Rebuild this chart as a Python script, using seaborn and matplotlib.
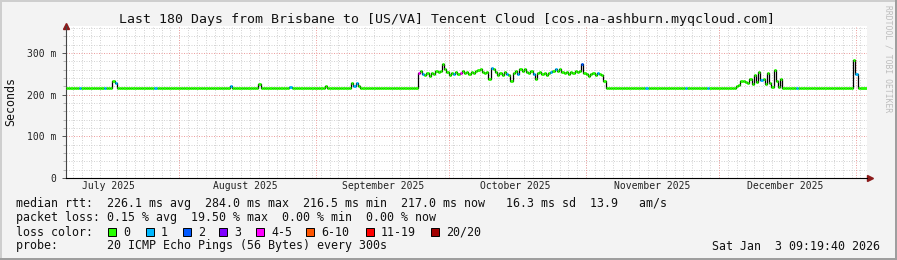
import numpy as np
import pandas as pd
import matplotlib
matplotlib.use("Agg")
import matplotlib.pyplot as plt
import matplotlib.dates as mdates
from matplotlib.ticker import MultipleLocator, FuncFormatter
from matplotlib.patches import Rectangle
from matplotlib.lines import Line2D
import seaborn as sns

# ---------------- data ----------------
title = "Last 180 Days from Brisbane to [US/VA] Tencent Cloud [cos.na-ashburn.myqcloud.com]"
start_time = "2025-07-06 09:19:40"
end_time = "2026-01-03 09:19:40"
sample_hours = 12

early_rtt = ([217.0] * 21 + [233.0, 228.0] + [217.0] * 51 + [222.0] + [217.0] * 12 +
             [226.0] + [217.0] * 13 + [219.0] + [217.0] * 15 + [221.0] + [217.0] * 11 +
             [229.0, 222.0, 228.0, 222.0] + [217.0] * 26)
sep_oct_rtt = [253, 256, 250, 248, 251, 246, 253, 249, 257, 254,
               258, 273, 262, 255, 248, 253, 250, 255, 249, 253,
               256, 251, 254, 249, 255, 251, 256, 259, 262, 255,
               251, 254, 237, 265, 261, 255, 248, 252, 247, 254,
               250, 248, 234, 252, 256, 250, 261, 258, 262, 255,
               252, 256, 250, 237, 252, 255, 249, 252, 248, 253,
               255, 258, 261, 257, 262, 255, 252, 254, 250, 255,
               251, 258, 254, 256, 273, 253, 250, 246, 249, 252,
               248, 251, 249, 247, 232]
nov_rtt = [217.0] * 59
dec_rtt = [220, 224, 232, 233, 230, 228, 238, 225, 248, 230, 255,
           236, 238, 226, 253, 228, 218, 260, 232, 218, 238, 217]
late_rtt = [217.0] * 31 + [284.0, 250.0, 217.0, 217.0]

loss_idx = [6, 17, 22, 40, 74, 101, 130, 131, 159, 161, 175, 178, 192, 199, 204,
            211, 219, 221, 233, 240, 262, 280, 290, 314, 330, 357]
loss_pings = [1, 1, 1, 1, 1, 1, 1, 1, 4, 1, 1, 4, 1, 1, 1,
              1, 1, 1, 2, 1, 1, 1, 1, 1, 1, 1]

loss_labels = ["0", "1", "2", "3", "4-5", "6-10", "11-19", "20/20"]
loss_colors = ["#26ff00", "#00b8ff", "#0059ff", "#7e00ff", "#ff00ff", "#ff5500", "#ff0000", "#a10000"]

median_line = "median rtt:  226.1 ms avg  284.0 ms max  216.5 ms min  217.0 ms now   16.3 ms sd  13.9   am/s"
loss_line = "packet loss: 0.15 % avg  19.50 % max  0.00 % min  0.00 % now"
probe_line = "probe:       20 ICMP Echo Pings (56 Bytes) every 300s"
stamp = "Sat Jan  3 09:19:40 2026"
ylabel = "Seconds"
watermark = "RRDTOOL / TOBI OETIKER"

# ---------------- build frames ----------------
rtt = np.array(early_rtt + sep_oct_rtt + nov_rtt + dec_rtt + late_rtt, dtype=float)
n = len(rtt)
loss = np.zeros(n, dtype=int)
loss[loss_idx] = loss_pings


def loss_class(p):
    if p == 0:
        return "0"
    if p <= 3:
        return str(p)
    if p <= 5:
        return "4-5"
    if p <= 10:
        return "6-10"
    if p <= 19:
        return "11-19"
    return "20/20"


t0 = pd.Timestamp(start_time)
t_end = pd.Timestamp(end_time)
times = t0 + pd.to_timedelta(np.arange(n) * sample_hours, unit="h")
t_next = list(times[1:]) + [t_end]

line_df = pd.DataFrame({"time": list(times) + [t_end],
                        "rtt": list(rtt) + [rtt[-1]]})
rows = []
for i in range(n):
    c = loss_class(loss[i])
    rows.append((times[i], rtt[i], i, c))
    rows.append((t_next[i], rtt[i], i, c))
seg_df = pd.DataFrame(rows, columns=["time", "rtt", "seg", "cls"])
palette = dict(zip(loss_labels, loss_colors))

# ---------------- figure ----------------
sns.set_style("white")
plt.rcParams["font.family"] = ["DejaVu Sans Mono", "DejaVu Sans"]

W, H = 897, 260
fig = plt.figure(figsize=(W / 100, H / 100), dpi=100, facecolor="#f3f3f3")


def fx(x):
    return x / W


def fy(y):
    return 1 - y / H


ax_l, ax_r, ax_t, ax_b = 66, 866.5, 26, 178
ax = fig.add_axes([fx(ax_l), fy(ax_b), (ax_r - ax_l) / W, (ax_b - ax_t) / H])
ax.set_facecolor("white")

sns.lineplot(data=line_df, x="time", y="rtt", estimator=None, color="black",
             linewidth=0.9, drawstyle="steps-post", ax=ax, zorder=3)
sns.lineplot(data=seg_df, x="time", y="rtt", units="seg", hue="cls", palette=palette,
             estimator=None, linewidth=2.0, legend=False, ax=ax, zorder=4,
             solid_capstyle="butt")

ax.set_xlim(t0, t_end)
ax.set_ylim(0, 365)
ax.set_xlabel("")
ax.set_ylabel("")

# y axis
ax.yaxis.set_major_locator(MultipleLocator(100))
ax.yaxis.set_minor_locator(MultipleLocator(20))
ax.yaxis.set_major_formatter(FuncFormatter(lambda v, p: "0" if v == 0 else f"{int(v)} m"))
ax.tick_params(axis="y", which="major", length=3, width=0.7, color="#555555",
               labelsize=7, pad=4, labelcolor="#222222", left=True)
ax.tick_params(axis="y", which="minor", length=2, width=0.6, color="#aaaaaa", left=True)

# x axis
ax.xaxis.set_major_locator(mdates.MonthLocator(bymonthday=16))
ax.xaxis.set_major_formatter(mdates.DateFormatter("%B %Y"))
ax.xaxis.set_minor_locator(mdates.DayLocator(interval=2))
ax.tick_params(axis="x", which="major", length=0, labelsize=7, pad=2.5, labelcolor="#222222")
ax.tick_params(axis="x", which="minor", length=0)

ax.set_axisbelow(True)
dots = (0, (1, 1.5))
ax.grid(which="minor", axis="both", color="#d4d4d4", linestyle=dots, linewidth=0.72)
ax.grid(which="major", axis="y", color="#eda0a0", linestyle=dots, linewidth=0.72)
ax.grid(which="major", axis="x", visible=False)
for m in pd.date_range("2025-08-01", "2026-01-01", freq="MS"):
    ax.axvline(m, color="#eda0a0", linestyle=dots, linewidth=0.72, zorder=0.8)

for s in ["top", "right"]:
    ax.spines[s].set_visible(False)
ax.spines["left"].set_color("#444444")
ax.spines["left"].set_linewidth(0.8)
ax.spines["bottom"].set_color("black")
ax.spines["bottom"].set_linewidth(0.8)

# axis arrows
ax.add_line(Line2D([1.0, 1.004], [0, 0], transform=ax.transAxes, color="black",
                   lw=0.8, clip_on=False))
ax.plot([0], [1.0], marker="^", ms=5, color="#8b1a1a", transform=ax.transAxes, clip_on=False)
ax.plot([1.004], [0], marker=">", ms=5, color="#8b1a1a", transform=ax.transAxes, clip_on=False)

# ---------------- texts ----------------
fig.text(fx(446.5), fy(20), title, ha="center", va="center", fontsize=9.5, color="#111111")
fig.text(fx(11), fy(102), ylabel, rotation=90, ha="center", va="center", fontsize=8.4,
         color="#111111")
fig.text(fx(888), fy(5), watermark, rotation=270, ha="center", va="top", fontsize=5.8,
         color="#bdbdbd")

leg_fs = 8.4
fig.text(fx(16), fy(204), median_line, ha="left", va="center", fontsize=leg_fs, color="#111111")
fig.text(fx(16), fy(218), loss_line, ha="left", va="center", fontsize=leg_fs, color="#111111")
fig.text(fx(16), fy(232), "loss color:", ha="left", va="center", fontsize=leg_fs, color="#111111")
fig.text(fx(16), fy(246), probe_line, ha="left", va="center", fontsize=leg_fs, color="#111111")
fig.text(fx(880), fy(246), stamp, ha="right", va="center", fontsize=leg_fs, color="#111111")

sw_x = [108, 146, 183, 219, 256, 306, 366, 431]
for sx, lab, col in zip(sw_x, loss_labels, loss_colors):
    fig.add_artist(Rectangle((fx(sx), fy(236)), 8 / W, 8 / H, facecolor=col,
                             edgecolor="black", linewidth=0.7, transform=fig.transFigure))
    fig.text(fx(sx + 15), fy(232), lab, ha="left", va="center", fontsize=leg_fs, color="#111111")

# frame
fig.add_artist(Rectangle((0, 0), 1, 2 / H, facecolor="#9e9e9e", edgecolor="none",
                         transform=fig.transFigure))
fig.add_artist(Rectangle((1 - 2 / W, 0), 2 / W, 1, facecolor="#9e9e9e", edgecolor="none",
                         transform=fig.transFigure))
fig.add_artist(Rectangle((0, 1 - 2 / H), 1 - 2 / W, 2 / H, facecolor="#cecece", edgecolor="none",
                         transform=fig.transFigure))
fig.add_artist(Rectangle((0, 2 / H), 2 / W, 1 - 4 / H, facecolor="#cecece", edgecolor="none",
                         transform=fig.transFigure))

fig.savefig("out.png", dpi=100, facecolor=fig.get_facecolor())
